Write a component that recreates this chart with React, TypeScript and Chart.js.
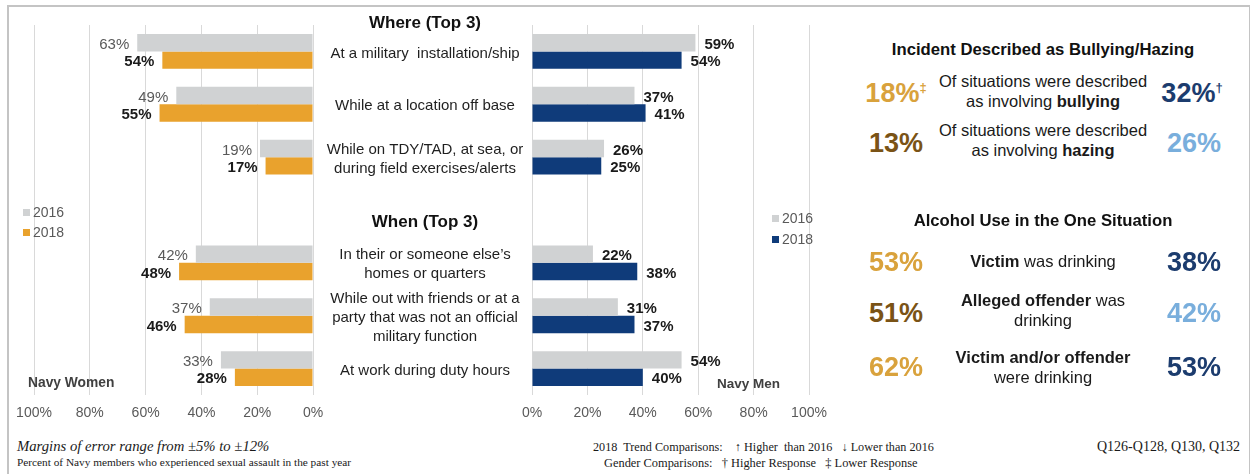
import React, { useEffect, useRef } from "react";
import { Chart, registerables } from "chart.js";

Chart.register(...registerables);

// ---------- DATA ----------
const categories: string[][] = [
  ["At a military  installation/ship"],
  ["While at a location off base"],
  ["While on TDY/TAD, at sea, or", "during field exercises/alerts"],
  [""],
  ["In their or someone else\u2019s", "homes or quarters"],
  ["While out with friends or at a", "party that was not an official", "military function"],
  ["At work during duty hours"],
];
const headingWhere = "Where (Top 3)";
const headingWhen = "When (Top 3)";
const years = ["2016", "2018"];
const women2016 = [63, 49, 19, null, 42, 37, 33];
const women2018 = [54, 55, 17, null, 48, 46, 28];
const men2016 = [59, 37, 26, null, 22, 31, 54];
const men2018 = [54, 41, 25, null, 38, 37, 40];
const axisTicks = [0, 20, 40, 60, 80, 100];

const bullyTitle = "Incident Described as Bullying/Hazing";
const alcoholTitle = "Alcohol Use in the One Situation";

// ---------- STYLE ----------
const SANS = "'Liberation Sans', Arial, Helvetica, sans-serif";
const SERIF = "'Liberation Serif', 'Times New Roman', serif";
const GRAY = "#D0D2D3";
const ORANGE = "#E9A22D";
const NAVY = "#0F3B7A";
const GOLD = "#D9A23C";
const BROWN = "#7A5316";
const DNAVY = "#1C3C6E";
const LBLUE = "#79AEDC";

const labels = categories.map((c) => c.join(" "));

function makeValuePlugin(side: "women" | "men") {
  return {
    id: "valueLabels_" + side,
    afterDatasetsDraw(chart: any) {
      const ctx = chart.ctx;
      ctx.save();
      chart.data.datasets.forEach((ds: any, di: number) => {
        const meta = chart.getDatasetMeta(di);
        meta.data.forEach((bar: any, i: number) => {
          const v = ds.data[i];
          if (v == null) return;
          const is2016 = di === 0;
          if (side === "women") {
            ctx.font = (is2016 ? "normal" : "bold") + " 15px " + SANS;
            ctx.fillStyle = is2016 ? "#595959" : "#1a1a1a";
            ctx.textAlign = "right";
            ctx.textBaseline = "middle";
            ctx.fillText(v + "%", bar.x - 8, bar.y + 2);
          } else {
            ctx.font = "bold 15px " + SANS;
            ctx.fillStyle = "#1a1a1a";
            ctx.textAlign = "left";
            ctx.textBaseline = "middle";
            ctx.fillText(v + "%", bar.x + 9, bar.y + 2);
          }
        });
      });
      ctx.restore();
    },
  };
}

const middleLabelPlugin = {
  id: "middleLabels",
  afterDraw(chart: any) {
    const ctx = chart.ctx;
    const y = chart.scales.y;
    const cx = chart.chartArea.left - 107;
    ctx.save();
    ctx.textAlign = "center";
    ctx.textBaseline = "middle";
    ctx.fillStyle = "#1f1f1f";
    ctx.font = "15px " + SANS;
    categories.forEach((lines, i) => {
      const py = y.getPixelForValue(i);
      const lh = 19;
      const start = py - ((lines.length - 1) * lh) / 2 + 2;
      lines.forEach((t, k) => ctx.fillText(t, cx, start + k * lh));
    });
    ctx.font = "bold 17px " + SANS;
    ctx.fillStyle = "#111";
    ctx.fillText(headingWhere, cx, chart.chartArea.top - 2);
    ctx.fillText(headingWhen, cx, y.getPixelForValue(3) + 12);
    ctx.restore();
  },
};

function barConfig(d16: (number | null)[], d18: (number | null)[], color18: string, reverse: boolean, padding: any, plugins: any[]) {
  return {
    type: "bar",
    data: {
      labels,
      datasets: [
        { label: years[0], data: d16, backgroundColor: GRAY, categoryPercentage: 0.66, barPercentage: 1.0 },
        { label: years[1], data: d18, backgroundColor: color18, categoryPercentage: 0.66, barPercentage: 1.0 },
      ],
    },
    options: {
      animation: false,
      responsive: true,
      maintainAspectRatio: false,
      indexAxis: "y",
      layout: { padding },
      plugins: { legend: { display: false }, tooltip: { enabled: false }, title: { display: false } },
      scales: {
        x: {
          min: 0,
          max: 100,
          reverse,
          afterBuildTicks: (s: any) => {
            s.ticks = axisTicks.map((v) => ({ value: v }));
          },
          ticks: {
            callback: (v: any) => v + "%",
            color: "#595959",
            font: { size: 14, family: SANS },
            padding: 10,
            maxRotation: 0,
          },
          grid: { color: "#D9D9D9", drawTicks: false, lineWidth: 1 },
          border: { display: false },
          afterFit: (s: any) => {
            s.height = 30;
          },
        },
        y: { display: false },
      },
    },
    plugins,
  };
}

function App() {
  const leftRef = useRef<HTMLCanvasElement | null>(null);
  const rightRef = useRef<HTMLCanvasElement | null>(null);

  useEffect(() => {
    const c1 = new Chart(
      leftRef.current as HTMLCanvasElement,
      barConfig(women2016, women2018, ORANGE, true, { left: 34, right: 17, top: 25, bottom: 5 }, [makeValuePlugin("women")]) as any
    );
    const c2 = new Chart(
      rightRef.current as HTMLCanvasElement,
      barConfig(men2016, men2018, NAVY, false, { left: 219, right: 34, top: 25, bottom: 5 }, [makeValuePlugin("men"), middleLabelPlugin]) as any
    );
    return () => {
      c1.destroy();
      c2.destroy();
    };
  }, []);

  const abs = (x: number, y: number, extra: any = {}) => ({ position: "absolute" as const, left: x, top: y, ...extra });
  const big = (color: string) => ({ fontFamily: SANS, fontWeight: "bold" as const, fontSize: 27, color, lineHeight: "30px", whiteSpace: "nowrap" as const });
  const centerBox = (cx: number, cy: number, w: number, h: number) => ({
    position: "absolute" as const,
    left: cx - w / 2,
    top: cy - h / 2,
    width: w,
    height: h,
    display: "flex",
    flexDirection: "column" as const,
    alignItems: "center",
    justifyContent: "center",
    textAlign: "center" as const,
  });
  const desc = { fontFamily: SANS, fontSize: 16.5, color: "#1a1a1a", lineHeight: "20px", whiteSpace: "nowrap" as const };
  const title = { fontFamily: SANS, fontWeight: "bold" as const, fontSize: 16.7, color: "#111", whiteSpace: "nowrap" as const };
  const legendItem = (x: number, y: number, color: string, text: string) => (
    <div style={abs(x, y - 8, { display: "flex", alignItems: "center", height: 16, fontFamily: SANS, fontSize: 14, color: "#595959" })}>
      <span style={{ display: "inline-block", width: 7, height: 7, background: color, marginRight: 3 }} />
      <span>{text}</span>
    </div>
  );

  return (
    <div style={{ position: "fixed", left: 0, top: 0, width: 1250, height: 474, background: "#fff", overflow: "hidden" }}>
      <div style={abs(7, 5, { width: 1240, height: 480, borderTop: "2px solid #C4C4C4", borderLeft: "2px solid #C4C4C4", borderRight: "2px solid #C4C4C4" })} />
      <div style={abs(0, 0, { width: 330, height: 430 })}>
        <canvas ref={leftRef} />
      </div>
      <div style={abs(313, 0, { width: 530, height: 430 })}>
        <canvas ref={rightRef} />
      </div>

      {legendItem(23, 212, GRAY, years[0])}
      {legendItem(23, 232, ORANGE, years[1])}
      {legendItem(772, 218, GRAY, years[0])}
      {legendItem(772, 239, NAVY, years[1])}

      <div style={abs(28, 375, { fontFamily: SANS, fontWeight: "bold", fontSize: 13.8, color: "#404040", lineHeight: "16px" })}>Navy Women</div>
      <div style={abs(717, 376, { fontFamily: SANS, fontWeight: "bold", fontSize: 13.5, color: "#404040", lineHeight: "16px" })}>Navy Men</div>

      {/* Right panel */}
      <div style={{ ...centerBox(1043, 50, 380, 24), ...title }}>{bullyTitle}</div>
      <div style={{ ...centerBox(896, 90, 90, 34) }}>
        <span style={big(GOLD)}>18%<sup style={{ fontSize: 13, verticalAlign: "10px" }}>‡</sup></span>
      </div>
      <div style={{ ...centerBox(1043, 91, 280, 42), ...desc }}>
        <div>Of situations were described</div>
        <div>as involving <b>bullying</b></div>
      </div>
      <div style={{ ...centerBox(1192, 90, 90, 34) }}>
        <span style={big(DNAVY)}>32%<sup style={{ fontSize: 13, verticalAlign: "10px" }}>†</sup></span>
      </div>

      <div style={{ ...centerBox(896, 143, 90, 34) }}><span style={big(BROWN)}>13%</span></div>
      <div style={{ ...centerBox(1043, 140, 280, 42), ...desc }}>
        <div>Of situations were described</div>
        <div>as involving <b>hazing</b></div>
      </div>
      <div style={{ ...centerBox(1194, 143, 90, 34) }}><span style={big(LBLUE)}>26%</span></div>

      <div style={{ ...centerBox(1043, 221, 380, 24), ...title }}>{alcoholTitle}</div>

      <div style={{ ...centerBox(896, 262, 90, 34) }}><span style={big(GOLD)}>53%</span></div>
      <div style={{ ...centerBox(1043, 261, 280, 22), ...desc }}>
        <div><b>Victim</b> was drinking</div>
      </div>
      <div style={{ ...centerBox(1194, 262, 90, 34) }}><span style={big(DNAVY)}>38%</span></div>

      <div style={{ ...centerBox(896, 313, 90, 34) }}><span style={big(BROWN)}>51%</span></div>
      <div style={{ ...centerBox(1043, 310, 280, 42), ...desc }}>
        <div><b>Alleged offender</b> was</div>
        <div>drinking</div>
      </div>
      <div style={{ ...centerBox(1194, 313, 90, 34) }}><span style={big(LBLUE)}>42%</span></div>

      <div style={{ ...centerBox(896, 367, 90, 34) }}><span style={big(GOLD)}>62%</span></div>
      <div style={{ ...centerBox(1043, 367, 280, 42), ...desc }}>
        <div><b>Victim and/or offender</b></div>
        <div>were drinking</div>
      </div>
      <div style={{ ...centerBox(1194, 367, 90, 34) }}><span style={big(DNAVY)}>53%</span></div>

      {/* Footer */}
      <div style={abs(17, 437, { fontFamily: SERIF, fontStyle: "italic", fontSize: 14.7, color: "#1a1a1a", lineHeight: "18px", whiteSpace: "nowrap" })}>
        Margins of error range from ±5% to ±12%
      </div>
      <div style={abs(17, 455, { fontFamily: SERIF, fontSize: 11.3, color: "#1a1a1a", lineHeight: "15px", whiteSpace: "nowrap" })}>
        Percent of Navy members who experienced sexual assault in the past year
      </div>
      <div style={abs(593, 440, { fontFamily: SERIF, fontSize: 12.2, color: "#1a1a1a", lineHeight: "14px", whiteSpace: "pre" })}>
        {"2018  Trend Comparisons:    \u2191 Higher  than 2016   \u2193 Lower than 2016"}
      </div>
      <div style={abs(604, 456, { fontFamily: SERIF, fontSize: 12.4, color: "#1a1a1a", lineHeight: "14px", whiteSpace: "pre" })}>
        {"Gender Comparisons:   \u2020 Higher Response   \u2021 Lower Response"}
      </div>
      <div style={abs(1097, 438, { fontFamily: SERIF, fontSize: 14, color: "#1a1a1a", lineHeight: "17px", whiteSpace: "nowrap" })}>
        Q126-Q128, Q130, Q132
      </div>
    </div>
  );
}

export default App;
